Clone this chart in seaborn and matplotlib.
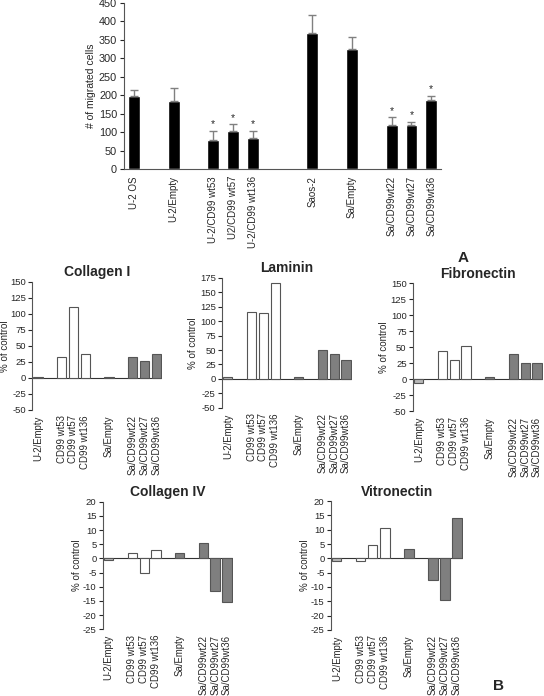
import numpy as np
import pandas as pd
import matplotlib
matplotlib.use("Agg")
import matplotlib.pyplot as plt
import seaborn as sns

sns.set_style("white")
plt.rcParams["font.family"] = ["Liberation Sans", "DejaVu Sans"]
plt.rcParams["axes.unicode_minus"] = False

# panel A: number of migrated cells
cells_a = ["U-2 OS", "U-2/Empty", "U-2/CD99 wt53", "U2/CD99 wt57", "U-2/CD99 wt136",
           "Saos-2", "Sa/Empty", "Sa/CD99wt22", "Sa/CD99wt27", "Sa/CD99wt36"]
migrated = [197, 183, 80, 102, 85, 368, 326, 119, 120, 186]
migrated_err = [16, 37, 23, 19, 18, 48, 32, 21, 8, 12]
significant = [False, False, True, True, True, False, False, True, True, True]

# panel B: % of control per matrix protein
cells_b = ["U-2/Empty", "CD99 wt53", "CD99 wt57", "CD99 wt136",
           "Sa/Empty", "Sa/CD99wt22", "Sa/CD99wt27", "Sa/CD99wt36"]
groups_b = ["ctrl", "wt", "wt", "wt", "sa", "sa", "sa", "sa"]
collagen1 = [1, 33, 110, 38, 1, 32, 26, 38]
laminin = [3, 116, 114, 165, 3, 50, 43, 32]
fibronectin = [-6, 44, 30, 52, 3, 40, 25, 25]
collagen4 = [-0.5, 2, -5, 3, 2, 5.5, -11.5, -15.5]
vitronectin = [-1, -1, 4.5, 10.5, 3.3, -7.5, -14.5, 14.2]

# layout: slot positions leave gaps between groups
slots_a = [0, 2, 4, 5, 6, 9, 11, 13, 14, 15]
slots_b = [0, 2, 3, 4, 6, 8, 9, 10]
pal = {"ctrl": "#b8b8b8", "wt": "white", "sa": "#7f7f7f"}

fig = plt.figure(figsize=(5.44, 6.96), dpi=100)

# ---- panel A
ax = fig.add_axes([0.228, 0.757, 0.583, 0.239])
dfa = pd.DataFrame({"x": slots_a, "y": migrated})
sns.barplot(data=dfa, x="x", y="y", native_scale=True, color="black",
            width=0.6, ax=ax)
ax.errorbar(slots_a, migrated, yerr=[np.zeros(len(migrated)), migrated_err],
            fmt="none", ecolor="#808080", elinewidth=1, capsize=3, capthick=1)
for x, m, e, s in zip(slots_a, migrated, migrated_err, significant):
    if s:
        ax.text(x, m + e + 4, "*", ha="center", va="bottom", fontsize=7.5)
ax.set_xlim(-0.5, 15.5)
ax.set_ylim(0, 450)
ax.set_yticks(range(0, 451, 50))
ax.set_xticks(slots_a)
ax.set_xticklabels(cells_a, rotation=90, fontsize=7)
ax.tick_params(axis="x", length=0, pad=5)
ax.tick_params(axis="y", length=3, width=0.8, labelsize=7.8, pad=2, left=True, direction="out")
ax.set_xlabel("")
ax.set_ylabel("# of migrated cells", fontsize=7.5, labelpad=2)
sns.despine(ax=ax)
for sp in ["left", "bottom"]:
    ax.spines[sp].set_color("#555555")
    ax.spines[sp].set_linewidth(0.8)
fig.text(463 / 544, 1 - 258 / 696, "A", fontsize=11, fontweight="bold",
         ha="center", va="center")


def panel_b(rect, vals, title, ylim, step, label_off=29):
    ax = fig.add_axes(rect)
    df = pd.DataFrame({"x": slots_b, "y": vals, "g": groups_b})
    sns.barplot(data=df, x="x", y="y", hue="g", palette=pal, native_scale=True,
                dodge=False, width=0.78, edgecolor="#555555", linewidth=0.8,
                legend=False, ax=ax)
    ax.axhline(0, color="#333333", lw=0.8, zorder=0)
    ax.set_xlim(-0.5, 10.5)
    ax.set_ylim(*ylim)
    ax.set_yticks(np.arange(ylim[0], ylim[1] + 0.1, step))
    ax.set_xticks(slots_b)
    ax.set_xticklabels(cells_b, rotation=90, fontsize=6.9)
    ax.tick_params(axis="x", length=0, pad=4)
    ax.tick_params(axis="y", length=3, width=0.8, labelsize=6.8, pad=1.5, left=True, direction="out")
    ax.set_xlabel("")
    ax.set_ylabel("% of control", fontsize=7, va="center")
    # label centre placed a fixed number of pixels left of the axis line
    ax.yaxis.set_label_coords(-label_off / (rect[2] * 544), 0.5)
    ax.set_title(title, fontsize=10, fontweight="bold", pad=4)
    sns.despine(ax=ax, bottom=True)
    ax.spines["left"].set_color("#555555")
    ax.spines["left"].set_linewidth(0.8)
    return ax


panel_b([0.059, 0.411, 0.239, 0.184], collagen1, "Collagen I", (-50, 150), 25, 27)
panel_b([0.408, 0.414, 0.239, 0.187], laminin, "Laminin", (-50, 175), 25)
panel_b([0.759, 0.409, 0.239, 0.184], fibronectin, "Fibronectin", (-50, 150), 25)
panel_b([0.189, 0.096, 0.239, 0.183], collagen4, "Collagen IV", (-25, 20), 5, 26)
panel_b([0.608, 0.095, 0.243, 0.185], vitronectin, "Vitronectin", (-25, 20), 5, 26)
fig.text(498 / 544, 1 - 686 / 696, "B", fontsize=11, fontweight="bold",
         ha="center", va="center")

fig.savefig("out.png", dpi=100)
